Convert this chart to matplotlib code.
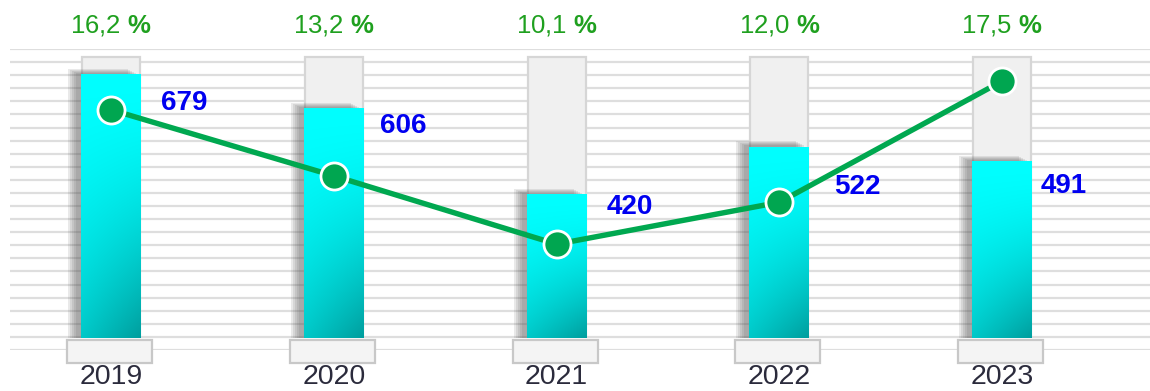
import numpy as np
import matplotlib
matplotlib.use("Agg")
import matplotlib.pyplot as plt
from matplotlib.patches import Rectangle

plt.rcParams['font.family'] = ['Liberation Sans', 'DejaVu Sans']
plt.rcParams['mathtext.fontset'] = 'custom'
plt.rcParams['mathtext.rm'] = 'Liberation Sans'
plt.rcParams['mathtext.bf'] = 'Liberation Sans:bold'

# ---- data ----
years = ['2019', '2020', '2021', '2022', '2023']
values = [679, 606, 420, 522, 491]
percent = [16.2, 13.2, 10.1, 12.0, 17.5]
percent_labels = ['16,2', '13,2', '10,1', '12,0', '17,5']

# ---- style ----
label_dx_px = [20, 16, 20, 25, 9]     # gap from bar right edge to value label
label_dy_px = [28, 17, 12, 40, 24]    # value label centre below bar top
W, H = 1150, 391
fig = plt.figure(figsize=(W / 100, H / 100), dpi=100)

# background stripes
bg = fig.add_axes([10 / W, (H - 350) / H, 1140 / W, 301 / H])
bg.set_xlim(0, 1); bg.set_ylim(0, 1); bg.axis('off')
for yy in np.linspace(0, 1, 24):
    bg.axhline(yy, color='#DEDEDE', lw=1.6, zorder=0)

ax = fig.add_axes([10 / W, (H - 338) / H, 1140 / W, 289 / H])
ax.set_facecolor('none')
XL = (-0.4544, 4.6646)
YL = (110, 735)
x = np.arange(len(years))
bw = 0.2694
xpx = (XL[1] - XL[0]) / 1140.0   # data per pixel
ypx = (YL[1] - YL[0]) / 289.0

xt = ax.get_xaxis_transform()
# grey background bars and base boxes
for xi in x:
    ax.add_patch(Rectangle((xi - 0.13, 0), 0.26, 0.972, transform=xt,
                           fc='#F0F0F0', ec='#D6D6D6', lw=1.6, zorder=1))
    ax.add_patch(Rectangle((xi - 0.1908 - 1.5 * xpx, -0.0865), 0.3817, 0.0796,
                           transform=xt, fc='#F4F4F4', ec='#C8C8C8', lw=1.6,
                           zorder=6, clip_on=False))

# shadows
for xi, v in zip(x, values):
    left = xi - bw / 2
    for dx, dy in [(13, 6), (11, 5), (9, 4), (7, 3), (5, 2)]:
        ax.add_patch(Rectangle((left - dx * xpx, YL[0]), bw, v - YL[0] + dy * ypx,
                               fc='#505050', ec='none', alpha=0.12, zorder=2))

# gradient bars
ny, nx = 120, 30
vv = np.linspace(0, 1, ny)[:, None]
hh = np.linspace(0, 1, nx)[None, :]
t = np.clip(vv ** 1.7 * (0.52 + 0.4 * hh), 0, 1)
g = (255 - t * 105) / 255.0
img = np.dstack([np.zeros_like(g), g, g])
for xi, v in zip(x, values):
    ax.imshow(img, extent=[xi - bw / 2, xi + bw / 2, YL[0], v], aspect='auto',
              zorder=3, interpolation='bilinear')

ax.set_xlim(*XL)
ax.set_ylim(*YL)
ax.axis('off')

# value labels
for xi, v, dx, dy in zip(x, values, label_dx_px, label_dy_px):
    ax.annotate(str(v), (xi + bw / 2, v), xytext=(dx * 0.72, -dy * 0.72),
                textcoords='offset points', ha='left', va='center',
                fontsize=20, fontweight='bold', color='#0000F0', zorder=8)

# percent labels and years
for xi, pl, yr in zip(x, percent_labels, years):
    ax.text(xi, 1.0554, pl + r' $\mathbf{\%}$', transform=xt, ha='center',
            va='baseline', fontsize=18.5, color='#1FA01F')
    ax.text(xi, -0.1592, yr, transform=xt, ha='center', va='baseline',
            fontsize=20.5, color='#2B2B3C')

# line on secondary axis
ax2 = ax.twinx()
ax2.set_facecolor('none')
ax2.plot(x, percent, color='#00A850', lw=3.9, marker='o', ms=19.5,
         mfc='#00A650', mec='white', mew=2, zorder=5, solid_capstyle='round')
ax2.set_xlim(*XL)
ax2.set_ylim(5.84, 18.96)
ax2.axis('off')

fig.savefig('out.png', dpi=100)
